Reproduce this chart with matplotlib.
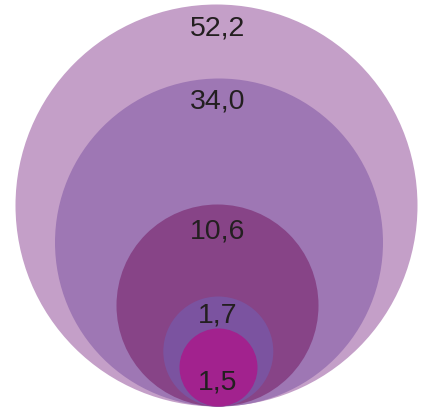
import matplotlib
matplotlib.use('Agg')
from matplotlib import pyplot as plt
from matplotlib.patches import Circle

# valores (do maior para o menor)
values = [52.2, 34.0, 10.6, 1.7, 1.5]
labels = ['52,2', '34,0', '10,6', '1,7', '1,5']

# estilo: raios em pixels, cores e posicao do rotulo
radii = [201, 164, 101, 55, 39]
centers_x = [216.5, 219, 217.5, 218.3, 218.5]
colors = ['#C49FC8', '#9E77B4', '#874487', '#7B53A0', '#A2228E']
label_dy = [24, 23, 27, 19, 54]
base_y = 406.5

plt.rcParams['font.family'] = ['Liberation Sans', 'DejaVu Sans']

fig = plt.figure(figsize=(4.22, 4.08), dpi=100)
ax = fig.add_axes([0, 0, 1, 1])
ax.set_xlim(0, 422)
ax.set_ylim(408, 0)
ax.set_aspect('equal')
ax.axis('off')

for v, lab, r, cx, c, dy in zip(values, labels, radii, centers_x, colors, label_dy):
    cy = base_y - r
    ax.add_patch(Circle((cx, cy), r, facecolor=c, edgecolor='none'))
    ax.text(218, cy - r + dy, lab, ha='center', va='center',
            fontsize=20.5, color='#231F20')

fig.savefig('out.png', dpi=100)
